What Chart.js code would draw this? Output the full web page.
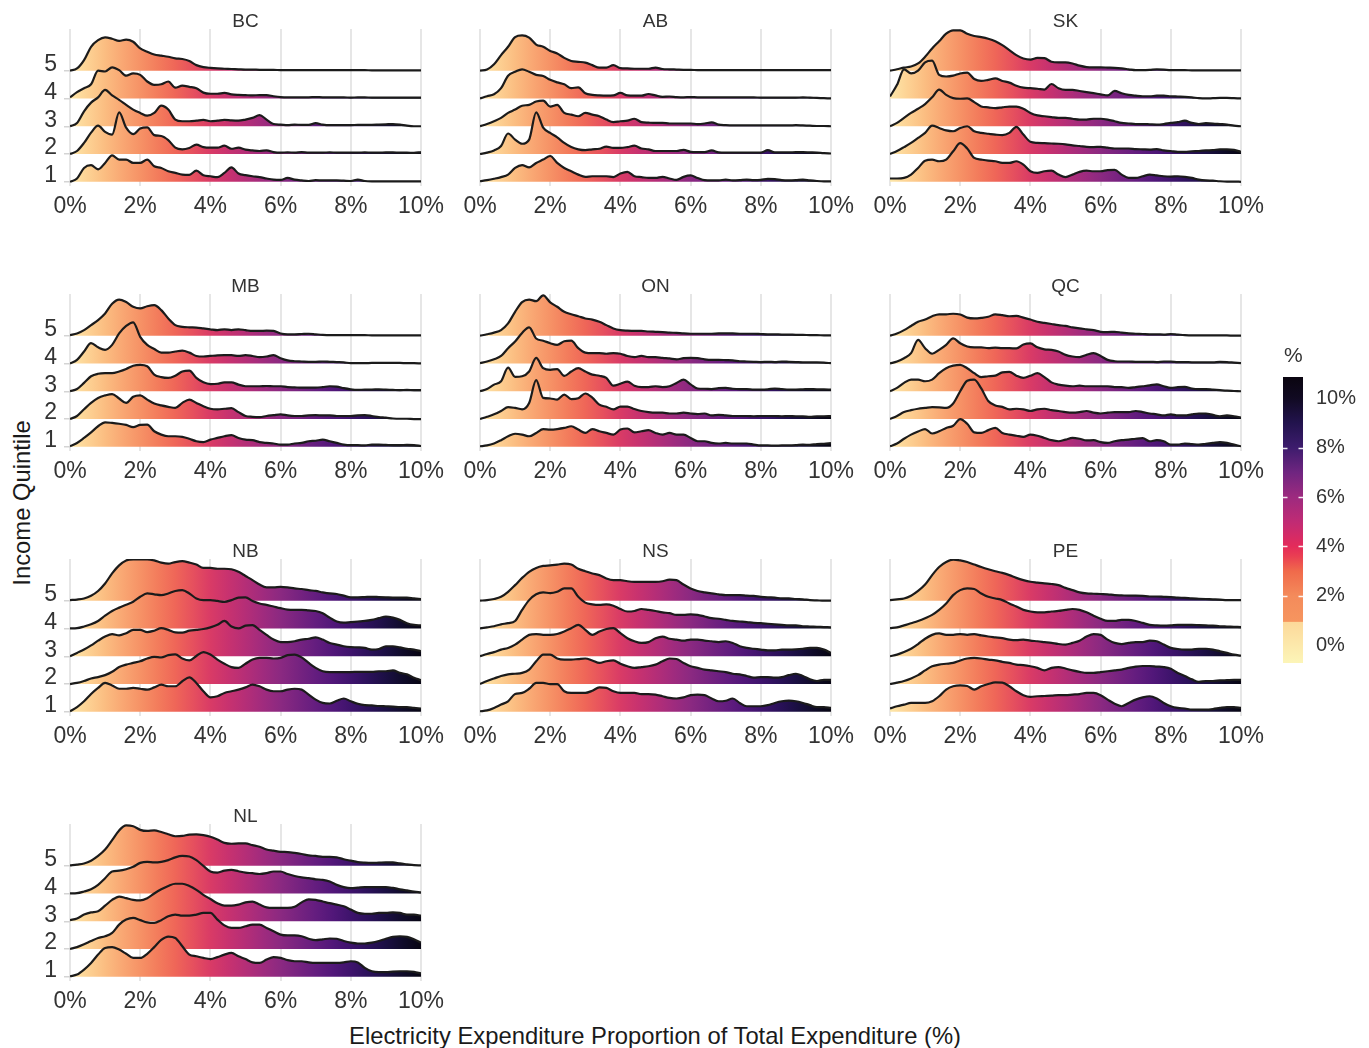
<!DOCTYPE html>
<html lang="en">
<head>
<meta charset="utf-8">
<title>Electricity expenditure share by income quintile</title>
<script src="https://cdn.jsdelivr.net/npm/chart.js@4.4.1/dist/chart.umd.min.js"></script>
<style>
  html, body { margin: 0; padding: 0; background: #ffffff; overflow: hidden; }
  #figure { position: relative; width: 1369px; height: 1048px; font-family: "Liberation Sans", Arial, Helvetica, sans-serif; color: #1a1a1a; }
  #figure canvas { position: absolute; }
  .axis-title { position: absolute; white-space: nowrap; font-size: 23.8px; color: #1a1a1a; line-height: 1; }
  #xTitle { left: 655px; top: 1036px; transform: translate(-50%, -50%); }
  #yTitle { left: 22px; top: 503px; transform: translate(-50%, -50%) rotate(-90deg); }
</style>
</head>
<body>
<div id="figure">
  <div class="axis-title" id="yTitle">Income Quintile</div>
  <div class="axis-title" id="xTitle">Electricity Expenditure Proportion of Total Expenditure (%)</div>
</div>
<script>
// Evaluation grid of the density estimates (% of total expenditure)
const xGrid = [0,0.2,0.4,0.6,0.8,1,1.2,1.4,1.6,1.8, 2,2.2,2.4,2.6,2.8,3,3.2,3.4,3.6,3.8, 4,4.2,4.4,4.6,4.8,5,5.2,5.4,5.6,5.8, 6,6.2,6.4,6.6,6.8,7,7.2,7.4,7.6,7.8, 8,8.2,8.4,8.6,8.8,9,9.2,9.4,9.6,9.8,10];
const quintiles = ['1', '2', '3', '4', '5'];
const xTicks = [0, 2, 4, 6, 8, 10];
const legendTicks = [0, 2, 4, 6, 8, 10];
const provinces = ['BC', 'AB', 'SK', 'MB', 'ON', 'QC', 'NB', 'NS', 'PE', 'NL'];

// Scaled ridge heights per province, one row per income quintile (1 .. 5)
const BC = [
  [0,0.12,0.5,0.6,0.45,0.68,0.95,0.8,0.8,0.68, 0.68,0.8,0.56,0.5,0.38,0.32,0.26,0.25,0.4,0.24, 0.2,0.17,0.32,0.52,0.3,0.24,0.2,0.17,0.12,0.08, 0.07,0.14,0.08,0.05,0.03,0.06,0.05,0.05,0.05,0.04, 0.03,0.08,0.03,0.02,0.02,0.02,0.02,0.02,0.02,0.02,0.02],
  [0,0.11,0.4,0.77,1.02,0.8,0.7,1.5,0.95,0.72, 0.92,0.96,0.68,0.65,0.5,0.23,0.17,0.22,0.34,0.25, 0.23,0.23,0.3,0.19,0.23,0.16,0.13,0.11,0.13,0.07, 0.05,0.06,0.05,0.07,0.05,0.05,0.05,0.06,0.05,0.05, 0.05,0.05,0.06,0.05,0.05,0.06,0.06,0.05,0.05,0.04,0.07],
  [0,0.12,0.54,0.85,1.04,1.31,1.11,0.95,0.77,0.6, 0.48,0.38,0.48,0.74,0.6,0.24,0.18,0.18,0.2,0.23, 0.18,0.2,0.23,0.21,0.2,0.24,0.3,0.4,0.24,0.08, 0.06,0.04,0.06,0.05,0.05,0.11,0.06,0.04,0.04,0.04, 0.04,0.05,0.05,0.05,0.06,0.07,0.08,0.06,0.02,0,0],
  [0.04,0.23,0.37,0.51,1.0,0.97,1.12,1.02,0.82,0.9, 0.85,0.61,0.49,0.51,0.61,0.39,0.46,0.42,0.37,0.21, 0.17,0.17,0.2,0.15,0.13,0.12,0.11,0.12,0.12,0.08, 0.05,0.04,0.04,0.04,0.04,0.05,0.04,0.04,0.04,0.04, 0.03,0.04,0.04,0.03,0.03,0.03,0.03,0.03,0.03,0.03,0.03],
  [0,0.08,0.38,0.86,1.1,1.2,1.15,1.07,1.12,1.04, 0.8,0.68,0.58,0.54,0.5,0.44,0.42,0.35,0.2,0.13, 0.1,0.08,0.07,0.06,0.05,0.04,0.04,0.03,0.03,0.03, 0.02,0.02,0.02,0.02,0.02,0.02,0.02,0.02,0.02,0.02, 0.02,0.02,0.02,0.01,0.01,0.01,0.01,0.01,0.01,0.01,0.01]
];
const AB = [
  [0.02,0.06,0.11,0.17,0.26,0.5,0.6,0.52,0.68,0.8, 0.93,0.68,0.5,0.38,0.26,0.18,0.2,0.2,0.2,0.17, 0.3,0.36,0.2,0.17,0.14,0.14,0.18,0.12,0.07,0.18, 0.23,0.14,0.06,0.05,0.05,0.08,0.05,0.06,0.08,0.06, 0.07,0.11,0.1,0.06,0.05,0.06,0.08,0.05,0.03,0.02,0.02],
  [0,0.05,0.13,0.29,0.74,0.52,0.37,0.52,1.5,0.95, 0.76,0.6,0.4,0.25,0.17,0.14,0.17,0.19,0.27,0.22, 0.22,0.25,0.3,0.2,0.17,0.11,0.11,0.11,0.11,0.15, 0.08,0.07,0.07,0.13,0.06,0.05,0.05,0.05,0.05,0.05, 0.05,0.14,0.06,0.06,0.06,0.07,0.07,0.06,0.05,0.03,0.02],
  [0,0.08,0.18,0.3,0.48,0.6,0.74,0.77,0.89,0.92, 0.71,0.77,0.48,0.42,0.36,0.48,0.42,0.36,0.24,0.15, 0.18,0.2,0.27,0.15,0.13,0.12,0.12,0.1,0.1,0.1, 0.1,0.08,0.1,0.14,0.06,0.04,0.03,0.03,0.03,0.03, 0.03,0.03,0.03,0.03,0.03,0.04,0.03,0.02,0.01,0.01,0],
  [0,0.08,0.15,0.37,0.82,0.96,1.05,0.96,0.85,0.81, 0.67,0.58,0.51,0.37,0.4,0.19,0.13,0.11,0.1,0.11, 0.2,0.11,0.1,0.1,0.16,0.11,0.06,0.07,0.05,0.04, 0.05,0.04,0.04,0.04,0.04,0.04,0.04,0.04,0.04,0.04, 0.03,0.03,0.03,0.03,0.03,0.03,0.04,0.03,0.02,0.01,0],
  [0,0.04,0.23,0.56,0.86,1.21,1.27,1.19,0.94,0.86, 0.71,0.62,0.46,0.35,0.32,0.29,0.2,0.11,0.11,0.2, 0.09,0.08,0.07,0.07,0.07,0.11,0.06,0.05,0.04,0.03, 0.03,0.02,0.02,0.02,0.02,0.02,0.02,0.02,0.02,0.02, 0.02,0.02,0.02,0.02,0.02,0.02,0.02,0.02,0.02,0.02,0.02]
];
const SK = [
  [0.12,0.12,0.14,0.26,0.5,0.76,0.8,0.74,0.8,1.1, 1.39,1.2,0.86,0.8,0.76,0.74,0.68,0.68,0.74,0.62, 0.38,0.32,0.38,0.4,0.26,0.17,0.26,0.36,0.4,0.38, 0.38,0.42,0.43,0.26,0.14,0.14,0.2,0.26,0.23,0.2, 0.19,0.2,0.18,0.14,0.08,0.05,0.04,0.02,0.01,0.01,0],
  [0,0.11,0.25,0.4,0.58,0.76,1.02,0.94,0.85,0.82, 0.94,1.0,0.82,0.76,0.73,0.7,0.68,0.76,0.98,0.7, 0.44,0.4,0.39,0.38,0.37,0.35,0.31,0.29,0.26,0.25, 0.26,0.23,0.2,0.2,0.2,0.18,0.17,0.16,0.18,0.13, 0.11,0.08,0.08,0.1,0.11,0.13,0.14,0.17,0.17,0.15,0.08],
  [0,0.12,0.3,0.48,0.63,0.8,1.04,1.32,1.13,1.01, 0.99,1.0,0.87,0.71,0.68,0.65,0.68,0.71,0.71,0.63, 0.48,0.39,0.36,0.33,0.3,0.3,0.27,0.24,0.24,0.27, 0.27,0.24,0.18,0.12,0.1,0.08,0.08,0.07,0.06,0.08, 0.12,0.15,0.2,0.12,0.08,0.11,0.1,0.08,0.06,0.02,0],
  [0.07,0.49,1.05,0.9,1.0,1.3,1.36,0.85,0.79,0.82, 0.9,0.93,0.7,0.63,0.67,0.72,0.63,0.57,0.46,0.39, 0.37,0.35,0.32,0.52,0.37,0.31,0.31,0.27,0.23,0.19, 0.15,0.11,0.27,0.19,0.13,0.1,0.08,0.08,0.1,0.1, 0.08,0.07,0.06,0.04,0.01,0,0.01,0.02,0.02,0.01,0],
  [0,0.05,0.11,0.15,0.26,0.5,0.8,1.06,1.33,1.45, 1.45,1.33,1.25,1.21,1.15,1.06,0.92,0.74,0.56,0.44, 0.4,0.46,0.45,0.32,0.3,0.3,0.26,0.18,0.13,0.12, 0.12,0.11,0.1,0.08,0.05,0.02,0.02,0.03,0.05,0.04, 0.02,0.02,0.02,0.01,0.01,0.01,0.01,0.01,0.01,0.01,0.01]
];
const MB = [
  [0.02,0.14,0.32,0.52,0.74,0.88,0.86,0.83,0.79,0.71, 0.79,0.8,0.56,0.44,0.38,0.38,0.36,0.29,0.2,0.17, 0.26,0.32,0.38,0.42,0.32,0.26,0.24,0.17,0.14,0.12, 0.08,0.08,0.12,0.14,0.2,0.22,0.26,0.2,0.14,0.08, 0.06,0.06,0.05,0.08,0.08,0.07,0.06,0.06,0.07,0.06,0.03],
  [0,0.11,0.35,0.58,0.76,0.85,0.9,0.74,0.58,0.8, 0.85,0.7,0.56,0.49,0.44,0.4,0.58,0.7,0.58,0.46, 0.37,0.35,0.37,0.39,0.25,0.11,0.08,0.07,0.11,0.14, 0.17,0.13,0.11,0.11,0.13,0.14,0.13,0.13,0.11,0.11, 0.11,0.13,0.14,0.11,0.07,0.05,0.02,0.01,0.01,0,0],
  [0,0.08,0.3,0.54,0.63,0.65,0.65,0.71,0.8,0.92, 0.95,0.9,0.6,0.51,0.48,0.56,0.71,0.74,0.48,0.32, 0.26,0.27,0.32,0.32,0.24,0.18,0.18,0.18,0.19,0.18, 0.18,0.15,0.14,0.13,0.13,0.13,0.15,0.18,0.17,0.11, 0.07,0.05,0.06,0.06,0.07,0.06,0.05,0.04,0.05,0.04,0.04],
  [0,0.13,0.43,0.73,0.58,0.49,0.67,1.08,1.35,1.48, 0.96,0.67,0.52,0.39,0.39,0.43,0.46,0.39,0.27,0.25, 0.27,0.29,0.3,0.3,0.27,0.3,0.27,0.23,0.25,0.3, 0.19,0.11,0.08,0.07,0.06,0.06,0.07,0.06,0.05,0.04, 0.01,0.01,0.01,0.02,0.02,0.02,0.02,0.02,0.01,0.01,0],
  [0.02,0.08,0.2,0.38,0.56,0.8,1.15,1.3,1.21,1.04, 0.98,1.06,1.1,0.92,0.62,0.38,0.32,0.3,0.29,0.26, 0.23,0.2,0.23,0.2,0.23,0.2,0.17,0.17,0.18,0.17, 0.08,0.05,0.05,0.06,0.07,0.05,0.03,0.02,0.02,0.02, 0.02,0.02,0.02,0.01,0.01,0.01,0.01,0.01,0.01,0.01,0.01]
];
const ON = [
  [0.02,0.05,0.12,0.24,0.38,0.47,0.44,0.38,0.5,0.64, 0.62,0.64,0.68,0.74,0.62,0.5,0.64,0.56,0.5,0.44, 0.62,0.66,0.52,0.56,0.6,0.5,0.44,0.5,0.44,0.44, 0.32,0.2,0.2,0.14,0.12,0.14,0.12,0.12,0.12,0.08, 0.05,0.05,0.04,0.05,0.05,0.06,0.08,0.07,0.1,0.11,0.13],
  [0,0.08,0.17,0.29,0.43,0.4,0.35,0.58,1.4,0.76, 0.74,0.7,0.88,0.72,0.75,0.92,0.77,0.52,0.44,0.35, 0.45,0.45,0.36,0.29,0.25,0.23,0.23,0.2,0.2,0.23, 0.2,0.18,0.2,0.13,0.15,0.13,0.11,0.11,0.11,0.1, 0.11,0.11,0.11,0.1,0.11,0.1,0.1,0.08,0.1,0.1,0.11],
  [0,0.08,0.24,0.36,0.85,0.52,0.54,0.71,1.2,0.83, 0.77,0.8,0.55,0.71,0.83,0.71,0.6,0.56,0.48,0.2, 0.27,0.35,0.2,0.15,0.15,0.18,0.15,0.18,0.3,0.42, 0.25,0.1,0.09,0.08,0.11,0.12,0.09,0.08,0.08,0.06, 0.06,0.07,0.1,0.08,0.06,0.06,0.07,0.08,0.07,0.07,0.06],
  [0.01,0.07,0.15,0.27,0.55,0.79,1.1,1.3,0.9,0.82, 0.73,0.67,0.8,0.82,0.55,0.39,0.37,0.37,0.35,0.37, 0.35,0.27,0.23,0.27,0.23,0.23,0.2,0.18,0.15,0.19, 0.2,0.19,0.15,0.13,0.13,0.12,0.11,0.08,0.07,0.06, 0.05,0.06,0.05,0.07,0.06,0.05,0.04,0.04,0.04,0.03,0.01],
  [0,0.05,0.11,0.2,0.44,0.86,1.21,1.3,1.24,1.45, 1.2,1.04,0.86,0.77,0.7,0.62,0.58,0.5,0.38,0.26, 0.2,0.18,0.17,0.17,0.15,0.14,0.13,0.11,0.1,0.08, 0.07,0.07,0.07,0.07,0.08,0.08,0.08,0.07,0.07,0.07, 0.06,0.05,0.05,0.04,0.04,0.03,0.03,0.02,0.02,0.01,0.01]
];
const QC = [
  [0.02,0.12,0.29,0.44,0.55,0.64,0.48,0.56,0.68,0.76, 1.0,0.83,0.52,0.5,0.6,0.68,0.5,0.44,0.4,0.36, 0.44,0.4,0.32,0.24,0.2,0.26,0.32,0.29,0.23,0.24, 0.17,0.14,0.2,0.24,0.26,0.29,0.31,0.2,0.24,0.2, 0.08,0.08,0.12,0.1,0.08,0.11,0.14,0.17,0.14,0.08,0.02],
  [0,0.11,0.25,0.32,0.37,0.4,0.43,0.42,0.4,0.56, 1.0,1.38,1.42,1.1,0.65,0.49,0.44,0.35,0.37,0.35, 0.29,0.35,0.37,0.32,0.29,0.25,0.23,0.25,0.29,0.23, 0.2,0.23,0.25,0.25,0.25,0.29,0.25,0.2,0.17,0.13, 0.17,0.13,0.13,0.17,0.2,0.2,0.15,0.1,0.13,0.1,0.05],
  [0,0.12,0.3,0.42,0.42,0.36,0.42,0.65,0.83,0.92, 0.95,0.83,0.65,0.51,0.54,0.56,0.68,0.7,0.56,0.48, 0.56,0.65,0.51,0.32,0.24,0.2,0.18,0.2,0.18,0.18, 0.18,0.18,0.15,0.15,0.12,0.15,0.18,0.21,0.25,0.18, 0.12,0.15,0.16,0.1,0.08,0.08,0.06,0.04,0.02,0.01,0],
  [0,0.07,0.19,0.37,0.85,0.55,0.35,0.49,0.67,0.9, 0.73,0.61,0.58,0.58,0.55,0.57,0.55,0.55,0.54,0.68, 0.72,0.58,0.51,0.49,0.43,0.31,0.25,0.23,0.31,0.37, 0.27,0.13,0.08,0.07,0.07,0.06,0.06,0.06,0.05,0.07, 0.07,0.05,0.05,0.04,0.04,0.04,0.04,0.06,0.05,0.03,0.01],
  [0,0.08,0.2,0.35,0.5,0.58,0.7,0.77,0.77,0.79, 0.76,0.65,0.62,0.64,0.68,0.77,0.74,0.7,0.71,0.65, 0.58,0.5,0.46,0.42,0.38,0.35,0.3,0.26,0.23,0.2, 0.14,0.13,0.14,0.11,0.08,0.07,0.06,0.05,0.05,0.04, 0.06,0.04,0.02,0.01,0.01,0.01,0.01,0.01,0.01,0,0]
];
const NB = [
  [0.02,0.17,0.38,0.64,0.86,1.04,0.95,0.83,0.83,0.86, 0.83,0.8,0.88,0.98,0.92,0.92,1.1,1.24,1.04,0.74, 0.52,0.56,0.68,0.74,0.8,0.88,0.98,0.92,0.8,0.74, 0.74,0.8,0.83,0.8,0.62,0.44,0.32,0.3,0.4,0.48, 0.38,0.29,0.24,0.23,0.21,0.2,0.19,0.17,0.17,0.14,0.12],
  [0,0.04,0.11,0.2,0.25,0.32,0.44,0.61,0.7,0.76, 0.82,0.92,0.98,0.96,1.04,1.07,0.92,0.85,1.01,1.15, 1.06,0.88,0.73,0.61,0.58,0.73,0.88,0.94,0.94,0.92, 0.94,1.04,1.06,0.96,0.76,0.58,0.46,0.43,0.43,0.43, 0.43,0.44,0.44,0.44,0.46,0.46,0.49,0.4,0.35,0.23,0.14],
  [0,0.12,0.24,0.39,0.56,0.71,0.8,0.75,0.83,0.95, 0.95,0.87,0.92,1.01,0.95,0.86,0.85,0.92,0.95,0.98, 1.04,1.13,1.27,1.07,1.0,1.1,1.12,0.95,0.77,0.6, 0.51,0.51,0.54,0.6,0.63,0.68,0.6,0.48,0.42,0.36, 0.33,0.32,0.3,0.24,0.26,0.36,0.36,0.32,0.27,0.24,0.18],
  [0,0.01,0.07,0.15,0.27,0.46,0.63,0.75,0.85,0.96, 1.14,1.26,1.23,1.2,1.26,1.35,1.38,1.26,1.08,1.02, 1.02,0.99,0.96,1.02,1.11,1.12,0.99,0.9,0.85,0.79, 0.73,0.68,0.67,0.67,0.65,0.63,0.55,0.39,0.25,0.21, 0.23,0.25,0.27,0.31,0.37,0.43,0.39,0.31,0.19,0.13,0.11],
  [0.02,0.04,0.08,0.18,0.35,0.62,0.98,1.27,1.45,1.49, 1.49,1.49,1.45,1.37,1.33,1.39,1.42,1.37,1.3,1.18, 1.18,1.15,1.15,1.13,1.04,0.89,0.74,0.58,0.48,0.48, 0.5,0.48,0.44,0.42,0.38,0.35,0.3,0.26,0.24,0.18, 0.12,0.12,0.13,0.14,0.13,0.12,0.11,0.11,0.11,0.08,0.06]
];
const NS = [
  [0.02,0.05,0.14,0.26,0.38,0.64,0.68,0.83,1.04,1.04, 1.0,1.0,0.74,0.68,0.68,0.68,0.76,0.88,0.86,0.74, 0.68,0.68,0.68,0.64,0.64,0.62,0.56,0.5,0.48,0.52, 0.6,0.62,0.6,0.48,0.38,0.4,0.48,0.32,0.2,0.2, 0.2,0.24,0.32,0.38,0.4,0.38,0.32,0.24,0.17,0.17,0.14],
  [0,0.11,0.2,0.29,0.35,0.37,0.4,0.52,0.82,1.06, 1.06,0.92,0.88,0.88,0.9,0.92,0.85,0.76,0.82,0.85, 0.73,0.64,0.58,0.61,0.64,0.7,0.82,0.92,0.9,0.76, 0.64,0.58,0.52,0.49,0.46,0.43,0.37,0.35,0.29,0.23, 0.25,0.25,0.23,0.25,0.32,0.37,0.29,0.17,0.11,0.15,0.15],
  [0,0.08,0.15,0.24,0.3,0.42,0.6,0.77,0.8,0.77, 0.77,0.8,0.89,1.01,1.13,0.95,0.77,0.89,0.98,1.01, 0.83,0.65,0.54,0.48,0.51,0.65,0.71,0.63,0.6,0.56, 0.6,0.6,0.56,0.54,0.51,0.54,0.48,0.36,0.3,0.27, 0.24,0.21,0.21,0.24,0.24,0.25,0.27,0.3,0.3,0.24,0.12],
  [0,0.04,0.08,0.15,0.19,0.27,0.67,1.02,1.23,1.3, 1.27,1.32,1.44,1.44,1.14,0.93,0.87,0.85,0.87,0.82, 0.7,0.61,0.63,0.7,0.67,0.63,0.58,0.55,0.49,0.49, 0.51,0.49,0.43,0.37,0.35,0.31,0.27,0.25,0.23,0.2, 0.19,0.17,0.15,0.13,0.11,0.11,0.08,0.07,0.06,0.05,0.04],
  [0,0.02,0.06,0.14,0.32,0.56,0.82,1.04,1.18,1.25, 1.27,1.3,1.33,1.3,1.15,1.06,0.98,0.92,0.8,0.74, 0.74,0.7,0.68,0.68,0.68,0.68,0.7,0.76,0.74,0.58, 0.44,0.35,0.3,0.26,0.23,0.2,0.2,0.2,0.18,0.17, 0.14,0.12,0.11,0.08,0.08,0.06,0.05,0.02,0.01,0,0]
];
const PE = [
  [0.12,0.2,0.26,0.32,0.32,0.32,0.38,0.56,0.8,0.92, 0.95,0.93,0.8,0.92,1.0,1.06,1.05,0.92,0.74,0.6, 0.54,0.56,0.57,0.58,0.6,0.6,0.62,0.64,0.68,0.68, 0.6,0.44,0.29,0.2,0.32,0.44,0.52,0.56,0.48,0.32, 0.2,0.14,0.12,0.08,0.08,0.08,0.1,0.14,0.17,0.17,0.14],
  [0,0.05,0.11,0.2,0.32,0.49,0.64,0.7,0.73,0.76, 0.85,0.92,0.94,0.92,0.88,0.85,0.8,0.76,0.7,0.68, 0.64,0.58,0.49,0.58,0.61,0.56,0.49,0.44,0.4,0.4, 0.43,0.46,0.49,0.52,0.58,0.63,0.65,0.65,0.63,0.61, 0.55,0.4,0.29,0.17,0.08,0.11,0.11,0.13,0.14,0.15,0.15],
  [0,0.06,0.15,0.27,0.44,0.63,0.77,0.82,0.77,0.77, 0.8,0.77,0.8,0.75,0.71,0.68,0.65,0.6,0.58,0.6, 0.56,0.54,0.51,0.48,0.44,0.42,0.48,0.56,0.71,0.8, 0.77,0.6,0.48,0.44,0.48,0.51,0.51,0.56,0.54,0.42, 0.3,0.26,0.24,0.24,0.27,0.27,0.24,0.18,0.12,0.06,0.02],
  [0.01,0.04,0.11,0.19,0.27,0.37,0.49,0.67,0.9,1.2, 1.38,1.44,1.42,1.26,1.14,1.08,1.02,0.9,0.79,0.67, 0.61,0.58,0.58,0.61,0.63,0.67,0.7,0.67,0.58,0.46, 0.35,0.27,0.27,0.31,0.31,0.27,0.2,0.13,0.11,0.1, 0.11,0.13,0.13,0.13,0.12,0.11,0.1,0.08,0.07,0.06,0.05],
  [0.02,0.05,0.08,0.18,0.35,0.58,0.92,1.21,1.39,1.48, 1.45,1.39,1.3,1.21,1.13,1.06,1.0,0.92,0.82,0.74, 0.68,0.65,0.62,0.6,0.56,0.46,0.38,0.3,0.26,0.25, 0.24,0.23,0.2,0.19,0.18,0.18,0.17,0.15,0.15,0.14, 0.13,0.11,0.1,0.08,0.07,0.06,0.05,0.04,0.02,0.02,0.02]
];
const NL = [
  [0.02,0.08,0.26,0.5,0.8,1.04,1.07,0.98,0.83,0.68, 0.68,0.83,1.07,1.33,1.45,1.4,1.1,0.8,0.74,0.68, 0.64,0.71,0.8,0.86,0.74,0.64,0.52,0.5,0.62,0.71, 0.68,0.6,0.56,0.56,0.52,0.5,0.5,0.5,0.5,0.52, 0.56,0.52,0.32,0.2,0.17,0.17,0.19,0.2,0.2,0.18,0.12],
  [0,0.07,0.17,0.29,0.4,0.46,0.58,0.88,1.06,1.12, 1.04,0.96,0.94,1.04,1.18,1.24,1.2,1.2,1.24,1.3, 1.3,1.06,0.85,0.76,0.76,0.82,0.88,0.88,0.76,0.64, 0.52,0.49,0.49,0.46,0.37,0.32,0.35,0.38,0.37,0.29, 0.23,0.2,0.2,0.23,0.29,0.37,0.44,0.46,0.44,0.35,0.23],
  [0.04,0.1,0.24,0.32,0.36,0.56,0.77,0.89,0.83,0.77, 0.75,0.83,1.0,1.15,1.27,1.35,1.35,1.27,1.13,0.95, 0.8,0.65,0.56,0.56,0.6,0.68,0.71,0.6,0.5,0.48, 0.48,0.48,0.52,0.68,0.79,0.77,0.71,0.65,0.6,0.54, 0.42,0.3,0.27,0.27,0.3,0.3,0.32,0.3,0.24,0.24,0.2],
  [0,0.01,0.07,0.15,0.31,0.55,0.79,0.82,0.87,0.96, 1.1,1.14,1.12,1.14,1.2,1.3,1.35,1.33,1.2,0.99, 0.79,0.75,0.82,0.85,0.8,0.75,0.73,0.7,0.73,0.79, 0.79,0.7,0.63,0.58,0.55,0.51,0.49,0.43,0.31,0.23, 0.19,0.21,0.23,0.23,0.23,0.23,0.2,0.15,0.11,0.07,0.04],
  [0.01,0.04,0.08,0.18,0.35,0.58,0.92,1.27,1.45,1.42, 1.29,1.25,1.27,1.21,1.13,1.06,1.07,1.12,1.13,1.1, 1.04,0.94,0.82,0.79,0.8,0.8,0.74,0.68,0.58,0.54, 0.5,0.49,0.46,0.42,0.37,0.35,0.32,0.32,0.3,0.23, 0.18,0.13,0.11,0.1,0.11,0.12,0.12,0.08,0.05,0.02,0.01]
];
const ridges = { BC, AB, SK, MB, ON, QC, NB, NS, PE, NL };

// Reversed magma ramp used to shade each ridge by its x value
const fillStopValues = [0,0.5,1,1.5,2,2.5,3,3.5,4,4.5,5,5.5,6,6.5,7,7.5,8,8.5,9,9.5,10];
const fillStopColors = ['#fde7a9','#fdd294','#fbbd81','#f9a773','#f69266','#f37c5c','#ef6658','#e6505e','#d93b66','#c8326f','#b52e77','#a02b7e','#8b2981','#772380','#641d7f','#511779','#3e136c','#2b115a','#1b0f43','#0f0b29','#070512'];
// Colour bar stops (legend value scale)
const legendRange = [-0.71, 10.85];
const legendStopValues = [-0.71,0.95,0.97,2,3,3.6,4,4.5,5,6,7,8,9,10,10.85];
const legendStopColors = ['#fcf5b8','#fcd89a','#f6955f','#f48b5b','#f06a4b','#ea3f52','#e42b5a','#d22b68','#c02b74','#9d2a7f','#6f2580','#3d1c6d','#22134d','#110a22','#0a0510'];

for (const name of provinces) {
  for (const row of ridges[name]) {
    if (row.length !== xGrid.length) throw new Error(name + ' row length ' + row.length);
  }
}

const FONT = "'Liberation Sans', Arial, Helvetica, sans-serif";
Chart.defaults.font.family = FONT;
Chart.defaults.color = '#333333';

const PANEL = { left0: 10, top0: 0, colStep: 410, rowStep: 265, width: 441, height: 224,
                axisW: 60, axisH: 38, padTop: 29, padRight: 30 };

function ridgeFill(chart) {
  const { ctx, chartArea, scales } = chart;
  if (!chartArea || !scales.x) return 'rgba(0,0,0,0)';
  if (chart.$ridgeFill) return chart.$ridgeFill;
  const lo = fillStopValues[0], hi = fillStopValues[fillStopValues.length - 1];
  const g = ctx.createLinearGradient(scales.x.getPixelForValue(lo), 0, scales.x.getPixelForValue(hi), 0);
  fillStopValues.forEach((v, i) => g.addColorStop((v - lo) / (hi - lo), fillStopColors[i]));
  chart.$ridgeFill = g;
  return g;
}

const panelTitle = {
  id: 'panelTitle',
  afterDraw(chart, args, opts) {
    const { ctx, chartArea } = chart;
    ctx.save();
    ctx.font = '19px ' + FONT;
    ctx.fillStyle = '#333333';
    ctx.textAlign = 'center';
    ctx.textBaseline = 'middle';
    ctx.fillText(opts.text, (chartArea.left + chartArea.right) / 2, chartArea.top - 7);
    ctx.restore();
  }
};

const fig = document.getElementById('figure');

provinces.forEach((name, p) => {
  const col = p % 3, row = Math.floor(p / 3);
  const canvas = document.createElement('canvas');
  canvas.width = PANEL.width;
  canvas.height = PANEL.height;
  canvas.style.left = (PANEL.left0 + col * PANEL.colStep) + 'px';
  canvas.style.top = (PANEL.top0 + row * PANEL.rowStep) + 'px';
  canvas.style.width = PANEL.width + 'px';
  canvas.style.height = PANEL.height + 'px';
  fig.appendChild(canvas);

  const datasets = ridges[name].map((heights, q) => ({
    label: quintiles[q],
    data: heights.map((h, k) => ({ x: xGrid[k], y: q + h })),
    fill: { value: q },
    backgroundColor: (ctx) => ridgeFill(ctx.chart),
    borderColor: '#1b1b1b',
    borderWidth: 2.2,
    borderJoinStyle: 'round',
    pointRadius: 0,
    cubicInterpolationMode: 'monotone'
  }));

  new Chart(canvas, {
    type: 'line',
    data: { datasets },
    plugins: [panelTitle],
    options: {
      responsive: false,
      animation: false,
      events: [],
      layout: { padding: { left: 0, top: PANEL.padTop, right: PANEL.padRight, bottom: 0 } },
      plugins: {
        legend: { display: false },
        tooltip: { enabled: false },
        panelTitle: { text: name }
      },
      scales: {
        x: {
          type: 'linear',
          min: xTicks[0],
          max: xTicks[xTicks.length - 1],
          afterBuildTicks: (s) => { s.ticks = xTicks.map((v) => ({ value: v })); },
          ticks: { callback: (v) => v + '%', font: { size: 23 }, color: '#333333', padding: 7, maxRotation: 0, autoSkip: false },
          grid: { color: '#e6e6e6', lineWidth: 2, drawTicks: false },
          border: { display: false },
          afterFit: (s) => { s.height = PANEL.axisH; }
        },
        y: {
          type: 'linear',
          min: -0.15,
          max: 5.5,
          afterBuildTicks: (s) => { s.ticks = quintiles.map((label, i) => ({ value: i })); },
          ticks: {
            display: col === 0,
            callback: (v, i) => quintiles[i],
            font: { size: 23 },
            color: '#333333',
            padding: 7,
            labelOffset: -6
          },
          grid: { display: col === 0, drawOnChartArea: false, drawTicks: true, tickLength: 6, color: '#d4d4d4', lineWidth: 1.5 },
          border: { display: false },
          afterFit: (s) => { s.width = PANEL.axisW; }
        }
      }
    }
  });
});

// Colour bar legend
function legendFill(chart) {
  const { ctx, chartArea, scales } = chart;
  if (!chartArea || !scales.y) return 'rgba(0,0,0,0)';
  if (chart.$legendFill) return chart.$legendFill;
  const yTop = scales.y.getPixelForValue(legendRange[1]);
  const yBot = scales.y.getPixelForValue(legendRange[0]);
  const g = ctx.createLinearGradient(0, yBot, 0, yTop);
  const span = legendRange[1] - legendRange[0];
  legendStopValues.forEach((v, i) => g.addColorStop((v - legendRange[0]) / span, legendStopColors[i]));
  chart.$legendFill = g;
  return g;
}

const colorbarMarks = {
  id: 'colorbarMarks',
  afterDatasetsDraw(chart) {
    const { ctx, chartArea, scales } = chart;
    ctx.save();
    ctx.strokeStyle = 'rgba(255,255,255,0.9)';
    ctx.lineWidth = 1.5;
    for (const v of legendTicks.slice(1, -1)) {
      const y = Math.round(scales.y.getPixelForValue(v)) + 0.5;
      ctx.beginPath();
      ctx.moveTo(chartArea.left, y); ctx.lineTo(chartArea.left + 4.5, y);
      ctx.moveTo(chartArea.right - 4.5, y); ctx.lineTo(chartArea.right, y);
      ctx.stroke();
    }
    ctx.font = '21px ' + FONT;
    ctx.fillStyle = '#333333';
    ctx.textAlign = 'left';
    ctx.textBaseline = 'middle';
    ctx.fillText('%', chartArea.left + 1, chartArea.top - 21);
    ctx.restore();
  }
};

const legendCanvas = document.createElement('canvas');
legendCanvas.width = 99;
legendCanvas.height = 348;
legendCanvas.style.left = '1270px';
legendCanvas.style.top = '340px';
legendCanvas.style.width = '99px';
legendCanvas.style.height = '348px';
fig.appendChild(legendCanvas);

new Chart(legendCanvas, {
  type: 'bar',
  data: {
    labels: ['%'],
    datasets: [{
      data: [legendRange.slice()],
      backgroundColor: (ctx) => legendFill(ctx.chart),
      borderWidth: 0,
      barPercentage: 1,
      categoryPercentage: 1
    }]
  },
  plugins: [colorbarMarks],
  options: {
    responsive: false,
    animation: false,
    events: [],
    layout: { padding: { left: 13, top: 37, right: 0, bottom: 25 } },
    plugins: { legend: { display: false }, tooltip: { enabled: false } },
    scales: {
      x: { display: false },
      y: {
        position: 'right',
        min: legendRange[0],
        max: legendRange[1],
        afterBuildTicks: (s) => { s.ticks = legendTicks.map((v) => ({ value: v })); },
        ticks: { callback: (v) => v + '%', font: { size: 20 }, color: '#333333', padding: 13 },
        grid: { display: false, drawTicks: false },
        border: { display: false },
        afterFit: (s) => { s.width = 66; }
      }
    }
  }
});
</script>
</body>
</html>
